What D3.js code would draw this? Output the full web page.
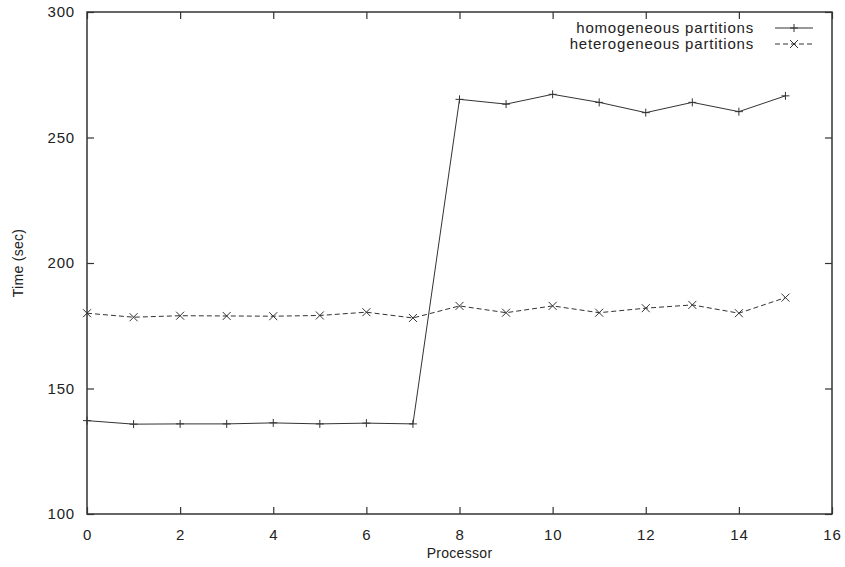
<!DOCTYPE html>
<html>
<head>
<meta charset="utf-8">
<script src="https://cdn.jsdelivr.net/npm/d3@7"></script>
<style>
  body { margin: 0; background: #fff; }
  text { font-family: "Liberation Sans", Arial, sans-serif; fill: #222; }
</style>
</head>
<body>
<div id="chart"></div>
<script>
var svgWidth = 845;
var svgHeight = 567;

var margin = { top: 12, right: 13, bottom: 53, left: 87 };
var width = svgWidth - margin.left - margin.right;
var height = svgHeight - margin.top - margin.bottom;

// data
var processors = [0, 1, 2, 3, 4, 5, 6, 7, 8, 9, 10, 11, 12, 13, 14, 15];
var homogeneous = [137.2, 135.8, 135.9, 135.9, 136.3, 135.9, 136.2, 135.9,
  265.2, 263.3, 267.2, 264.0, 259.9, 264.0, 260.3, 266.6];
var heterogeneous = [180.0, 178.4, 179.0, 178.9, 178.8, 179.1, 180.4, 178.1,
  182.9, 180.2, 182.9, 180.2, 182.0, 183.3, 180.0, 186.2];
var xTicks = [0, 2, 4, 6, 8, 10, 12, 14, 16];
var yTicks = [100, 150, 200, 250, 300];
var seriesNames = ["homogeneous partitions", "heterogeneous partitions"];

var svg = d3.select("#chart")
  .append("svg")
  .attr("width", svgWidth)
  .attr("height", svgHeight);

var chartGroup = svg.append("g")
  .attr("transform", `translate(${margin.left}, ${margin.top})`);

var x = d3.scaleLinear().domain([0, 16]).range([0, width]);
var y = d3.scaleLinear().domain([100, 300]).range([height, 0]);

var ink = "#333";
var tickLen = 7;

// frame
chartGroup.append("rect")
  .attr("x", 0).attr("y", 0)
  .attr("width", width).attr("height", height)
  .attr("fill", "none")
  .attr("stroke", ink)
  .attr("stroke-width", 1.5);

// ticks pointing inward, mirrored on opposite sides
var bottomAxis = d3.axisBottom(x).tickValues(xTicks).tickSize(-tickLen).tickPadding(tickLen + 8);
var topAxis = d3.axisTop(x).tickValues(xTicks).tickSize(-tickLen).tickFormat("");
var leftAxis = d3.axisLeft(y).tickValues(yTicks).tickSize(-tickLen).tickPadding(tickLen + 5);
var rightAxis = d3.axisRight(y).tickValues(yTicks).tickSize(-tickLen).tickFormat("");

chartGroup.append("g").attr("transform", `translate(0, ${height})`).call(bottomAxis);
chartGroup.append("g").call(topAxis);
chartGroup.append("g").call(leftAxis);
chartGroup.append("g").attr("transform", `translate(${width}, 0)`).call(rightAxis);

chartGroup.selectAll(".domain").remove();
chartGroup.selectAll(".tick line").attr("stroke", ink).attr("stroke-width", 1.2);
chartGroup.selectAll(".tick text")
  .attr("font-size", 15)
  .attr("letter-spacing", 0.8)
  .attr("fill", "#222");

// axis titles
svg.append("text")
  .attr("transform", `translate(18, ${margin.top + height / 2}) rotate(-90)`)
  .attr("text-anchor", "middle")
  .attr("dy", "0.35em")
  .attr("font-size", 14)
  .attr("letter-spacing", 0.3)
  .text("Time (sec)");

svg.append("text")
  .attr("x", margin.left + width / 2)
  .attr("y", 553)
  .attr("text-anchor", "middle")
  .attr("dy", "0.35em")
  .attr("font-size", 14)
  .attr("letter-spacing", 0.3)
  .text("Processor");

var line = d3.line()
  .x((d, i) => x(processors[i]))
  .y(d => y(d));

// homogeneous: solid with plus marks
chartGroup.append("path")
  .datum(homogeneous)
  .attr("d", line)
  .attr("fill", "none")
  .attr("stroke", ink)
  .attr("stroke-width", 1);

var m = 4;
function plusPath(cx, cy) {
  return `M${cx - m},${cy}H${cx + m}M${cx},${cy - m}V${cy + m}`;
}
function crossPath(cx, cy) {
  return `M${cx - m},${cy - m}L${cx + m},${cy + m}M${cx - m},${cy + m}L${cx + m},${cy - m}`;
}

chartGroup.selectAll(".plus")
  .data(homogeneous)
  .enter()
  .append("path")
  .attr("class", "plus")
  .attr("d", (d, i) => plusPath(x(processors[i]), y(d)))
  .attr("stroke", ink)
  .attr("stroke-width", 1);

// heterogeneous: dashed with x marks
chartGroup.append("path")
  .datum(heterogeneous)
  .attr("d", line)
  .attr("fill", "none")
  .attr("stroke", ink)
  .attr("stroke-width", 1)
  .attr("stroke-dasharray", "5,3");

chartGroup.selectAll(".cross")
  .data(heterogeneous)
  .enter()
  .append("path")
  .attr("class", "cross")
  .attr("d", (d, i) => crossPath(x(processors[i]), y(d)))
  .attr("stroke", ink)
  .attr("stroke-width", 1);

// legend
var legend = svg.append("g");
var legendRows = [
  { name: seriesNames[0], dash: null, mark: plusPath },
  { name: seriesNames[1], dash: "5,3", mark: crossPath }
];
legendRows.forEach(function(r, i) {
  var ly = 28 + i * 16;
  legend.append("text")
    .attr("x", 754)
    .attr("y", ly)
    .attr("dy", "0.35em")
    .attr("text-anchor", "end")
    .attr("font-size", 15)
    .attr("letter-spacing", 0.8)
    .text(r.name);
  legend.append("line")
    .attr("x1", 775).attr("x2", 813)
    .attr("y1", ly).attr("y2", ly)
    .attr("stroke", ink)
    .attr("stroke-width", 1)
    .attr("stroke-dasharray", r.dash);
  legend.append("path")
    .attr("d", r.mark(794, ly))
    .attr("stroke", ink)
    .attr("stroke-width", 1);
});
</script>
</body>
</html>
